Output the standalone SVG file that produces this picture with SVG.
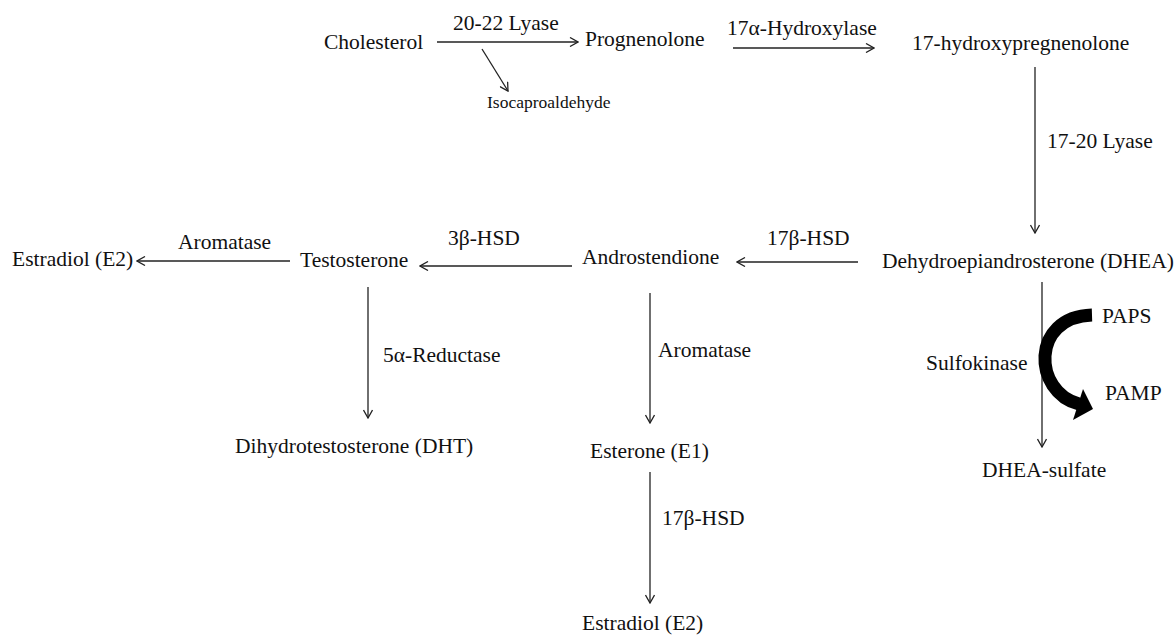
<svg xmlns="http://www.w3.org/2000/svg" width="1175" height="635" viewBox="0 0 1175 635">
<style>
text{font-family:"Liberation Serif","Times New Roman",serif;font-size:21.5px;fill:#111}
.s{font-size:17.5px}
.c{stroke:#222;stroke-width:1.3;fill:none;marker-end:url(#ah)}
</style>
<defs>
<marker id="ah" viewBox="0 0 10 10" refX="9" refY="5" markerWidth="10" markerHeight="10" markerUnits="userSpaceOnUse" orient="auto">
<path d="M1,0.5 L9,5 L1,9.5" stroke="#222" stroke-width="1.3" fill="none"/>
</marker>
</defs>
<rect width="1175" height="635" fill="#fff"/>
<g id="connectors">
<line class="c" x1="437" y1="42" x2="578" y2="42"/>
<line class="c" x1="482" y1="49" x2="508" y2="91"/>
<line class="c" x1="733" y1="48" x2="874" y2="48"/>
<line class="c" x1="1035" y1="67" x2="1035" y2="233"/>
<line class="c" x1="858" y1="262" x2="737" y2="262"/>
<line class="c" x1="572" y1="266" x2="420" y2="266"/>
<line class="c" x1="290" y1="261" x2="137" y2="261"/>
<line class="c" x1="368" y1="287" x2="368" y2="418"/>
<line class="c" x1="650" y1="293" x2="650" y2="423"/>
<line class="c" x1="650" y1="472" x2="650" y2="603"/>
<line class="c" x1="1042" y1="282" x2="1042" y2="447"/>
<path d="M1092,315 C1030,317 1033,392 1079,404" stroke="#000" stroke-width="13" fill="none"/>
<polygon points="1093,409 1083,389 1073,420" fill="#000"/>
</g>
<g id="cholesterol"><text x="324" y="49">Cholesterol</text></g>
<g id="lyase2022"><text x="453" y="30">20-22 Lyase</text></g>
<g id="isocaproaldehyde"><text class="s" x="487" y="108">Isocaproaldehyde</text></g>
<g id="prognenolone"><text x="585" y="46">Prognenolone</text></g>
<g id="hydroxylase"><text x="727" y="35">17α-Hydroxylase</text></g>
<g id="hydroxypregnenolone"><text x="912" y="50">17-hydroxypregnenolone</text></g>
<g id="lyase1720"><text x="1047" y="148">17-20 Lyase</text></g>
<g id="dhea"><text x="882" y="268">Dehydroepiandrosterone (DHEA)</text></g>
<g id="hsd17a"><text x="767" y="245">17β-HSD</text></g>
<g id="androstendione"><text x="582" y="264">Androstendione</text></g>
<g id="hsd3"><text x="448" y="245">3β-HSD</text></g>
<g id="testosterone"><text x="300" y="267">Testosterone</text></g>
<g id="aromatase1"><text x="178" y="249">Aromatase</text></g>
<g id="estradiol1"><text x="12" y="266">Estradiol (E2)</text></g>
<g id="reductase"><text x="383" y="362">5α-Reductase</text></g>
<g id="dht"><text x="235" y="453">Dihydrotestosterone (DHT)</text></g>
<g id="aromatase2"><text x="658" y="357">Aromatase</text></g>
<g id="esterone"><text x="590" y="458">Esterone (E1)</text></g>
<g id="hsd17b"><text x="662" y="525">17β-HSD</text></g>
<g id="estradiol2"><text x="582" y="630">Estradiol (E2)</text></g>
<g id="sulfokinase"><text x="926" y="370">Sulfokinase</text></g>
<g id="paps"><text x="1102" y="323">PAPS</text></g>
<g id="pamp"><text x="1105" y="400">PAMP</text></g>
<g id="dheasulfate"><text x="982" y="477">DHEA-sulfate</text></g>
</svg>
